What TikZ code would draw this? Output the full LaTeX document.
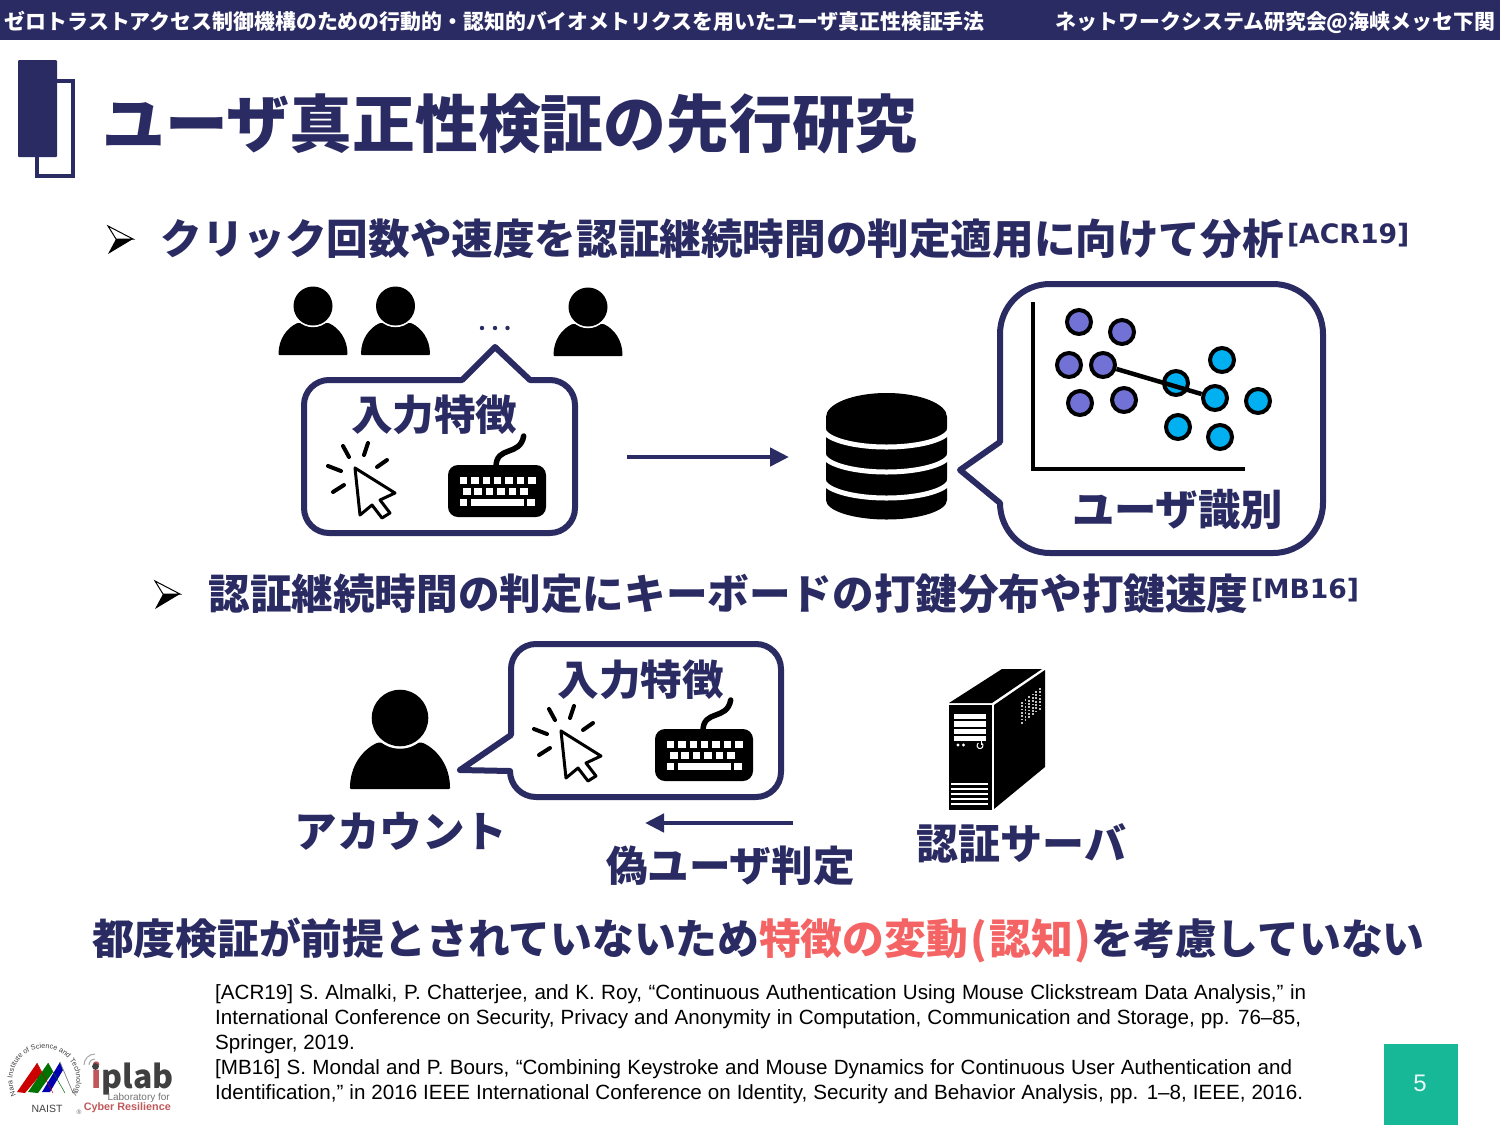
\documentclass[tikz,border=0pt]{standalone}
\usepackage{fontspec}
\setmainfont{Liberation Sans}
\newfontfamily\cjk{Noto Sans CJK JP}
\newfontfamily\dv{DejaVu Sans}
\usetikzlibrary{arrows.meta,decorations.text}
\definecolor{navy}{HTML}{2B2B63}
\definecolor{hl}{HTML}{F56464}
\definecolor{teal2}{HTML}{17B897}
\definecolor{purp}{HTML}{7272D6}
\definecolor{cyan2}{HTML}{00B0F0}
\definecolor{logored}{HTML}{C0585A}
\definecolor{logodark}{HTML}{404040}
\newcommand{\fs}[1]{\fontsize{#1}{#1}\selectfont}
\tikzset{
  x=1pt,y=-1pt,
  txt/.style={inner sep=0,outer sep=0,anchor=base west,text=navy,font=\cjk\bfseries\fs{41.6}},
  head/.style={inner sep=0,outer sep=0,anchor=base west,text=white,font=\cjk\bfseries\fs{20.9}},
  bubble/.style={draw=navy,line width=6pt,fill=white,line join=round},
  arrowline/.style={draw=navy,line width=4.5pt,-{Triangle[length=19pt,width=18pt]}},
  dotP/.style={circle,draw=black,line width=4pt,fill=purp,minimum size=24pt,inner sep=0},
  dotC/.style={circle,draw=black,line width=4pt,fill=cyan2,minimum size=24pt,inner sep=0},
  bulletpic/.pic={
    \draw[black,line width=1pt,fill=white,line join=miter] (0,0) -- (25,13) -- (8,13) -- cycle;
    \fill[black] (0,28) -- (25,13) -- (8,13) -- cycle;
  },
  person/.pic={
    \fill[black,rounded corners=1pt] (-34.5,49) .. controls (-34.5,33) and (-26,22) .. (-15.5,17) -- (15.5,17) .. controls (26,22) and (34.5,33) .. (34.5,49) -- cycle;
    \fill[white] (0,0) circle (21.2);
    \fill[black] (0,0) circle (19.5);
  },
  cursorpic/.pic={
    \draw[black,line width=3pt,line join=round,fill=white] (0,0) -- (40,25) -- (25,32) -- (35,45) -- (27,50) -- (17,37) -- (5,47) -- cycle;
    \draw[black,line width=4pt,line cap=round] (-12,-22)--(-6,-11) (13,-25)--(9,-13) (32,-8)--(22,-1) (-27,-2)--(-14,3) (-22,24)--(-11,17);
  },
  keyboard/.pic={
    \fill[black,rounded corners=10pt] (0,0) rectangle (98,52);
    \draw[black,line width=5.5pt,line cap=round] (48,2) .. controls (48,-20) and (72,-8) .. (75.7,-29);
    \foreach \i in {0,...,6}{\fill[white] (11.7+\i*11.4,11.7) rectangle +(7.5,6.8);}
    \foreach \i in {0,...,5}{\fill[white] (15+\i*11.4,22.7) rectangle +(7.5,7.2);}
    \fill[white] (11.7,34) rectangle +(7.5,7.3);
    \fill[white] (22.7,34) rectangle +(53,7.3);
    \fill[white] (79.3,34) rectangle +(7.5,7.3);
  },
}
\begin{document}
\begin{tikzpicture}
\useasboundingbox (0,0) rectangle (1500,1125);
\fill[white] (0,0) rectangle (1500,1125);
% header
\fill[navy] (0,0) rectangle (1500,40);
\node[head] (h1) at (5,29) {ゼロトラストアクセス制御機構のための行動的・認知的バイオメトリクスを用いたユーザ真正性検証手法};
\node[head,anchor=base east] (h2) at (1495,29) {ネットワークシステム研究会@海峡メッセ下関};
% title
\draw[navy,line width=3.5pt] (37,81) rectangle (73,176);
\fill[navy,rounded corners=1pt] (18,60) rectangle (57,157);
\node[txt,font=\cjk\bfseries\fs{62.8}] (title) at (102.5,147) {ユーザ真正性検証の先行研究};
% bullet 1
\pic at (108,226) {bulletpic};
\node[txt] (t1) at (160.5,254) {クリック回数や速度を認証継続時間の判定適用に向けて分析};
\node[txt,font=\dv\bfseries\fs{26.7}] (r1) at (1287,243) {[ACR19]};
% persons
\pic at (313,306) {person};
\pic at (395.5,306) {person};
\pic at (588,307) {person};
\foreach \x in {482,495,507.5}{\fill[navy] (\x,328) circle (2.2);}
% bubble 1
\draw[bubble] (329,380) -- (462,380) -- (495,347) -- (530,380) -- (550,380)
  arc[start angle=90,end angle=0,x radius=25,y radius=-25] -- (575,508)
  arc[start angle=0,end angle=-90,x radius=25,y radius=-25] -- (329,533)
  arc[start angle=-90,end angle=-180,x radius=25,y radius=-25] -- (304,405)
  arc[start angle=180,end angle=90,x radius=25,y radius=-25] -- cycle;
\node[txt] (f1) at (351,430) {入力特徴};
\pic at (355,468) {cursorpic};
\pic at (448,465) {keyboard};
% arrow 1
\coordinate (a1s) at (627,457);
\coordinate (a1e) at (789,457);
\draw[arrowline] (a1s) -- (a1e);
% database
\fill[black] (826,417) -- (826,500) arc[start angle=180,end angle=360,x radius=60.5,y radius=-19.5] -- (947,417) arc[start angle=0,end angle=180,x radius=60.5,y radius=-24] -- cycle;
\foreach \y in {428,453,479}{\draw[white,line width=5pt] (823,\y) arc[start angle=180,end angle=360,x radius=63.5,y radius=-19];}
% bubble 2
\draw[bubble] (1050,284) -- (1273,284) arc[start angle=90,end angle=0,x radius=50,y radius=-50] -- (1323,503)
  arc[start angle=0,end angle=-90,x radius=50,y radius=-50] -- (1050,553)
  arc[start angle=-90,end angle=-180,x radius=50,y radius=-50] -- (1000,503) -- (960,470) -- (1000,442) -- (1000,334)
  arc[start angle=180,end angle=90,x radius=50,y radius=-50] -- cycle;
\draw[black,line width=4pt] (1033,302) -- (1033,469) -- (1245,469);
\node[dotP] (p1) at (1079,322) {};
\node[dotP] (p2) at (1122,332) {};
\node[dotP] (p3) at (1069,365) {};
\node[dotP] (p4) at (1103,365) {};
\node[dotP] (p5) at (1080,403) {};
\node[dotP] (p6) at (1124,400) {};
\node[dotC] (c1) at (1222,360) {};
\node[dotC] (c2) at (1176,383) {};
\node[dotC] (c3) at (1215,398) {};
\node[dotC] (c4) at (1258,401) {};
\node[dotC] (c5) at (1178,427) {};
\node[dotC] (c6) at (1220,437) {};
\draw[black,line width=4.5pt] (p4) -- (c3);
\node[txt,font=\cjk\bfseries\fs{42.4}] (uid) at (1072,525) {ユーザ識別};
% bullet 2
\pic at (155,581) {bulletpic};
\node[txt] (t2) at (208.5,609) {認証継続時間の判定にキーボードの打鍵分布や打鍵速度};
\node[txt,font=\dv\bfseries\fs{26.6}] (r2) at (1251,598) {[MB16]};
% account
\pic[scale=1.45] at (400,718) {person};
\node[txt,font=\cjk\bfseries\fs{42.6}] (acc) at (294.5,847) {アカウント};
% bubble 3
\draw[bubble] (536,644) -- (756,644) arc[start angle=90,end angle=0,x radius=25,y radius=-25] -- (781,772)
  arc[start angle=0,end angle=-90,x radius=25,y radius=-25] -- (536,797)
  arc[start angle=-90,end angle=-180,x radius=26,y radius=-26] -- (460,770) -- (511,735) -- (511,669)
  arc[start angle=180,end angle=90,x radius=25,y radius=-25] -- cycle;
\node[txt] (f2) at (557.5,695) {入力特徴};
\pic at (561,731) {cursorpic};
\pic at (655,729) {keyboard};
% arrow 2
\coordinate (a2s) at (793,823);
\coordinate (a2e) at (645,823);
\draw[arrowline] (a2s) -- (a2e);
\node[txt] (fake) at (606,881) {偽ユーザ判定};
% server
\fill[black] (949,703) -- (1002,669) -- (1042,669) -- (992,703) -- cycle;
\fill[black] (994,705) -- (1045,670) -- (1045,767) -- (994,809) -- cycle;
\fill[black] (949,705) rectangle (992,810);
\foreach \y in {713.5,721,728.5,735.5}{\fill[white] (954,\y) rectangle (986,\y+5.5);}
\fill[white] (958,745) circle (1.7) (963.5,745) circle (1.7);
\draw[white,line width=1pt] (981.5,743) arc[start angle=60,end angle=-240,x radius=3,y radius=-3];
\draw[white,line width=1pt] (981.5,741) -- (981.5,745);
\foreach \y in {783,788,793,798,803}{\fill[white] (951,\y) rectangle (988,\y+2.2);}
\foreach \i in {0,...,5}{\foreach \j in {0,...,6}{\fill[white!75!black] (1021+\i*3.6,702-\i*2.8+\j*3.3) rectangle +(1.8,1.8);}}
\node[txt,font=\cjk\bfseries\fs{42}] (srv) at (916.5,859) {認証サーバ};
% conclusion
\node[txt,font=\cjk\bfseries\fs{41.8}] (c1t) at (92,954) {都度検証が前提とされていないため};
\node[txt,text=hl,font=\cjk\bfseries\fs{41.8}] (c2t) at (759,954) {特徴の変動\hspace{2.5pt}(\hspace{2.5pt}認知\hspace{1pt})};
\node[txt,font=\cjk\bfseries\fs{41.8}] (c3t) at (1091.5,954) {を考慮していない};
% references
\node[inner sep=0,anchor=north west,align=left,font=\fs{20.6},text=black] (refs) at (215,979) {%
\makebox[1091pt][s]{\rule{0pt}{20pt}[ACR19] S. Almalki, P. Chatterjee, and K. Roy, “Continuous Authentication Using Mouse Clickstream Data Analysis,” in}\\[4.4pt]
\makebox[1086pt][s]{International Conference on Security, Privacy and Anonymity in Computation, Communication and Storage, pp. 76–85,}\\[4.4pt]
Springer, 2019.\\[4.4pt]
\makebox[1077pt][s]{[MB16] S. Mondal and P. Bours, “Combining Keystroke and Mouse Dynamics for Continuous User Authentication and}\\[4.4pt]
\makebox[1088pt][s]{Identification,” in 2016 IEEE International Conference on Identity, Security and Behavior Analysis, pp. 1–8, IEEE, 2016.}};
% page number
\fill[teal2] (1384,1044) rectangle (1458,1125);
\node[inner sep=0,text=white!90!teal2,font=\fs{24}] (pg) at (1420,1083) {5};
% logo
\fill[red!80!black] (17,1092) -- (37,1063) -- (42,1073) -- (25,1093) -- cycle;
\fill[green!45!black] (28,1092) -- (48,1063) -- (53,1072) -- (38,1093) -- cycle;
\fill[blue!70!black] (42,1092) -- (60,1062) -- (63,1070) -- (50,1092) -- cycle;
\draw[red!70!black,line width=.5pt] (37,1063) -- (53,1093);
\draw[green!40!black,line width=.5pt] (48,1063) -- (65,1093);
\draw[black!50,line width=.7pt] (60,1062) -- (73,1093);
\path[decorate,decoration={text along path,text={|\fs{7.2}\color{black!75}|Nara Institute of Science and Technology},text align=center}] (23,1104) arc[start angle=228,end angle=-48,x radius=32,y radius=-32];
\node[inner sep=0,font=\fs{10.5},text=black!75] (naist) at (47,1109) {NAIST};
\node[inner sep=0,font=\fs{6.5},text=black!60] (rmark) at (79,1112) {®};
\draw[black!35,line width=1pt] (89,1065) arc[start angle=180,end angle=90,x radius=6,y radius=-6] (84,1065) arc[start angle=180,end angle=90,x radius=11,y radius=-11];
\node[inner sep=0,anchor=base west,font=\cjk\bfseries\fs{32},text=logodark] (ipl) at (91,1088) {\textcolor{logored}{i}plab};
\fill[logodark] (95.5,1066.5) circle (3.4);
\node[inner sep=0,anchor=east,font=\fs{10},text=black!55] (lab) at (170,1098) {Laboratory for};
\node[inner sep=0,anchor=east,font=\bfseries\fs{10.8},text=logored] (cyb) at (171,1107.5) {Cyber Resilience};
\end{tikzpicture}
\end{document}
